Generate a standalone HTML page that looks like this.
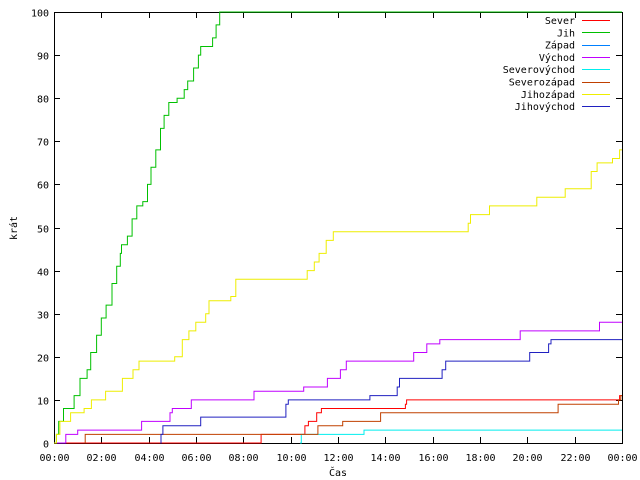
<!DOCTYPE html>
<html><head><meta charset="utf-8"><style>
html,body{margin:0;padding:0;background:#fff}
svg{display:block}
text{font-family:"DejaVu Sans Mono","Liberation Mono",monospace;font-size:10px;fill:#000}
</style></head><body>
<svg id="chart" width="640" height="480" xmlns="http://www.w3.org/2000/svg">
<rect x="0" y="0" width="640" height="480" fill="#fff"/>
<g id="axes"></g><g id="series"></g><g id="legend"></g>
<text transform="translate(17,228) rotate(-90)" text-anchor="middle">krát</text>
<text x="338" y="476" text-anchor="middle">Čas</text>
</svg>
<script>
const xTicks=["00:00","02:00","04:00","06:00","08:00","10:00","12:00","14:00","16:00","18:00","20:00","22:00","00:00"];
const yTicks=[0,10,20,30,40,50,60,70,80,90,100];
const seriesNames=["Sever","Jih","Západ","Východ","Severovýchod","Severozápad","Jihozápad","Jihovýchod"];
const seriesColors=["#ff0000","#00c000","#0080ff","#c000ff","#00eeee","#c04000","#eeee00","#2020c0"];
const sever=[[0,0],[8.75,2],[10.6,4],[10.75,5],[11.1,7],[11.3,8],[14.85,9],[14.9,10],[23.9,11]];
const jih=[[0,0],[0.1,2],[0.2,5],[0.4,8],[0.85,11],[1.1,15],[1.4,17],[1.55,21],[1.8,25],[2.0,29],[2.2,32],[2.45,37],[2.65,41],[2.8,44],[2.85,46],[3.1,48],[3.3,52],[3.5,55],[3.75,56],[3.95,60],[4.1,64],[4.3,68],[4.5,73],[4.65,76],[4.85,79],[5.2,80],[5.5,82],[5.65,84],[5.9,87],[6.1,90],[6.2,92],[6.7,94],[6.85,97],[7.0,100]];
const zapad=[];
const vychod=[[0,0],[0.5,2],[1.0,3],[3.7,5],[4.9,7],[5.0,8],[5.8,10],[8.45,12],[10.55,13],[11.55,15],[12.1,17],[12.35,19],[15.2,21],[15.75,23],[16.3,24],[19.7,26],[23.05,28],[24,28]];
const severovychod=[[10.4,0],[10.45,2],[13.1,3],[24,3]];
const severozapad=[[1.3,0],[1.32,2],[11.15,4],[12.2,5],[13.8,7],[21.3,9],[23.85,10],[23.95,11]];
const jihozapad=[[0,0],[0.1,2],[0.25,5],[0.7,7],[1.27,8],[1.58,10],[2.18,12],[2.89,15],[3.34,17],[3.59,19],[5.1,20],[5.42,24],[5.7,26],[5.99,28],[6.41,30],[6.55,33],[7.47,34],[7.68,38],[10.7,40],[11.0,42],[11.2,44],[11.5,47],[11.8,49],[17.5,51],[17.6,53],[18.4,55],[20.4,57],[21.6,59],[22.7,63],[22.95,65],[23.6,66],[23.9,68]];
const jihovychod=[[4.5,0],[4.52,2],[4.6,4],[6.2,6],[9.8,9],[9.9,10],[13.35,11],[14.5,13],[14.6,15],[16.4,17],[16.55,19],[20.1,21],[20.9,23],[21.0,24],[24,24]];
const allSeries=[sever,jih,zapad,vychod,severovychod,severozapad,jihozapad,jihovychod];
const L=54,R=622,T=12,B=443;
function xs(h){return L+(R-L)*h/24;}
function ys(v){return B-(B-T)*v/100;}
const NS="http://www.w3.org/2000/svg";
function mk(tag,attrs,parent){const e=document.createElementNS(NS,tag);for(const k in attrs)e.setAttribute(k,attrs[k]);parent.appendChild(e);return e;}
const axes=document.getElementById('axes');
const frame=mk('rect',{x:L+0.5,y:T+0.5,width:R-L,height:B-T,fill:'none',stroke:'#000','stroke-width':1},axes);


yTicks.forEach(v=>{const y=Math.round(ys(v))+0.5;
 const t1=mk('line',{x1:L,x2:L+6,y1:y,y2:y,stroke:'#000'},axes);
 
 
 const t2=mk('line',{x1:R-6,x2:R,y1:y,y2:y,stroke:'#000'},axes);
 
 
 const lb=mk('text',{x:L-5,y:y+4,'text-anchor':'end'},axes);lb.textContent=v;
 
 
});
xTicks.forEach((s,i)=>{const x=Math.round(xs(i*2))+0.5;
 const t1=mk('line',{x1:x,x2:x,y1:B,y2:B-6,stroke:'#000'},axes);
 
 
 const t2=mk('line',{x1:x,x2:x,y1:T,y2:T+6,stroke:'#000'},axes);
 
 
 const lb=mk('text',{x:x,y:B+18,'text-anchor':'middle'},axes);lb.textContent=s;
 
 
});
const sg=document.getElementById('series');
allSeries.forEach((d,i)=>{if(!d.length)return;
 let p='M'+xs(d[0][0]).toFixed(1)+','+ys(d[0][1]).toFixed(1);
 for(let k=1;k<d.length;k++){p+=' H'+xs(d[k][0]).toFixed(1)+' V'+ys(d[k][1]).toFixed(1);}
 p+=' H'+xs(24).toFixed(1);
 const pa=mk('path',{d:p,fill:'none',stroke:seriesColors[i],'stroke-width':1},sg);
 
 
});
const lg=document.getElementById('legend');
seriesNames.forEach((n,i)=>{const y=20+i*12.3;
 const t=mk('text',{x:575,y:y+4,'text-anchor':'end'},lg);t.textContent=n;
 
 
 const l=mk('line',{x1:582,x2:610,y1:Math.round(y)+0.5,y2:Math.round(y)+0.5,stroke:seriesColors[i]},lg);
 
 
});
</script>
</body></html>
